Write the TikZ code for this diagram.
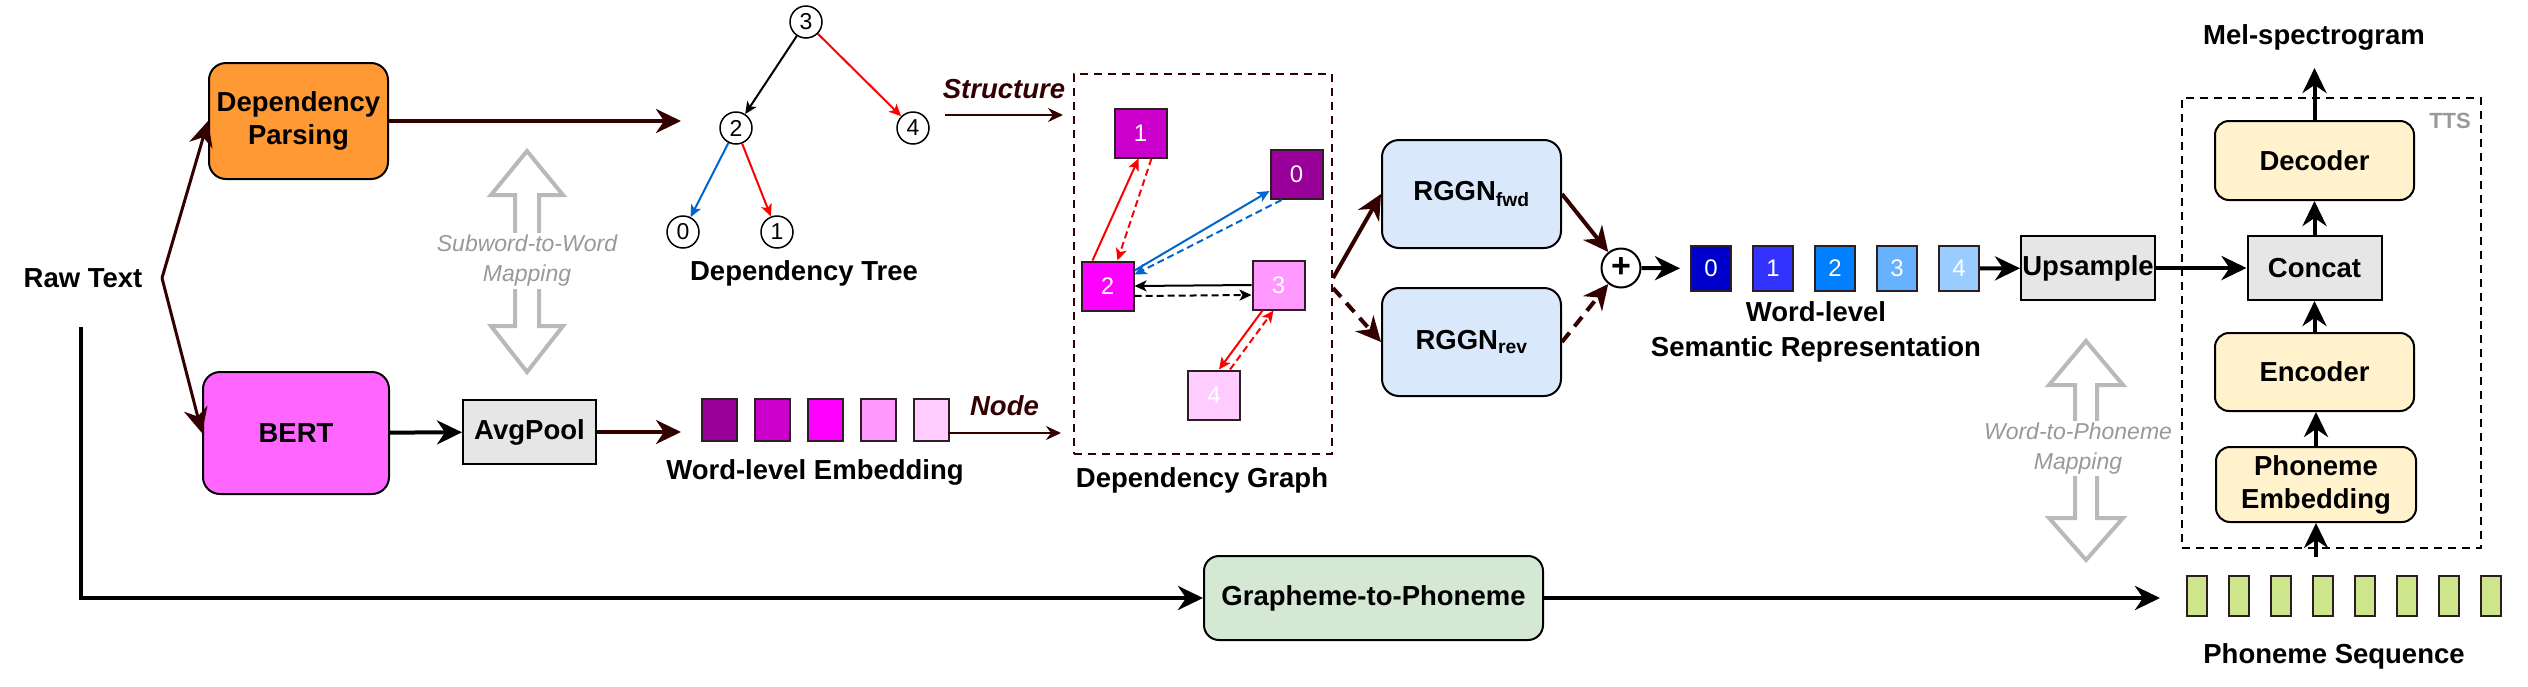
\documentclass[tikz,border=0pt]{standalone}
\usepackage{fontspec}
\setmainfont{Liberation Sans}
\usetikzlibrary{arrows.meta, positioning}
\definecolor{DarkBrown}{RGB}{51,0,0}
\definecolor{ParseOrange}{RGB}{255,153,51}
\definecolor{BertPink}{RGB}{255,102,255}
\definecolor{PoolGray}{RGB}{230,230,230}
\definecolor{RggnBlue}{RGB}{218,232,252}
\definecolor{TtsYellow}{RGB}{255,242,204}
\definecolor{GtpGreen}{RGB}{213,232,212}
\definecolor{PhonGreen}{RGB}{205,230,140}
\definecolor{MapGray}{RGB}{185,185,185}
\definecolor{MapText}{RGB}{153,153,153}
\definecolor{EdgeRed}{RGB}{255,0,0}
\definecolor{EdgeBlue}{RGB}{0,102,204}
\definecolor{CellEdge}{RGB}{45,30,35}
\definecolor{WordA}{RGB}{153,0,153}
\definecolor{WordB}{RGB}{204,0,204}
\definecolor{WordC}{RGB}{255,0,255}
\definecolor{WordD}{RGB}{255,153,255}
\definecolor{WordE}{RGB}{255,204,255}
\definecolor{SemA}{RGB}{0,0,204}
\definecolor{SemB}{RGB}{51,51,255}
\definecolor{SemC}{RGB}{0,127,255}
\definecolor{SemD}{RGB}{102,178,255}
\definecolor{SemE}{RGB}{153,204,255}

\begin{document}
\begin{tikzpicture}[x=1pt, y=-1pt,
    lbl/.style={font=\fontsize{27.5}{33}\selectfont\bfseries, align=center, inner sep=0pt},
    cuetext/.style={font=\fontsize{27.5}{33}\selectfont\bfseries\itshape, text=DarkBrown, inner sep=0pt},
    rbox/.style={lbl, rectangle, rounded corners=17pt, draw=black, line width=2pt},
    sbox/.style={lbl, rectangle, draw=black, line width=2pt, fill=PoolGray},
    cell/.style={rectangle, draw=CellEdge, line width=2pt, inner sep=0pt, text=white,
                 font=\fontsize{24}{24}\selectfont},
    wcell/.style={cell, minimum width=35pt, minimum height=42pt},
    scell/.style={cell, minimum width=40pt, minimum height=45pt},
    gcell/.style={cell, minimum width=52pt, minimum height=49pt},
    pcell/.style={cell, fill=PhonGreen, minimum width=20pt, minimum height=40pt},
    tnode/.style={circle, draw=black, line width=1.5pt, minimum size=32pt, inner sep=0pt,
                  font=\fontsize{23}{23}\selectfont},
    maptext/.style={font=\fontsize{23}{30}\selectfont\itshape, text=MapText, align=center,
                    fill=white, inner sep=2pt},
    mapshape/.style={draw=MapGray, line width=4pt, fill=white, line join=miter},
    frame/.style={draw, line width=2pt, dash pattern=on 8pt off 6pt, inner sep=0pt},
    flow/.style={-{Stealth[length=25pt, width=24pt, inset=8pt]}, line width=4pt, DarkBrown},
    flowk/.style={flow, black},
    back/.style={dash pattern=on 12pt off 8pt},
    cue/.style={-{Stealth[length=15pt, width=14pt, inset=5pt]}, line width=2pt, DarkBrown},
    dep/.style={-{Stealth[length=12pt, width=11pt, inset=3pt]}, line width=2pt},
    depback/.style={dep, dash pattern=on 7pt off 4pt}
]
\useasboundingbox (0,0) rectangle (2528,686);

% text input and the two branches
\node[lbl] (raw) at (83,278) {Raw Text};
\coordinate (split) at (162,278);
\node[rbox, fill=ParseOrange, minimum width=179pt, minimum height=116pt] (parse) at (298.5,121) {Dependency\\Parsing};
\node[rbox, fill=BertPink, minimum width=186pt, minimum height=122pt] (bert) at (296,433) {BERT};
\node[sbox, minimum width=133pt, minimum height=64pt] (pool) at (529.5,432) {AvgPool};
\draw[flow, line width=3pt] (split) -- (parse.west);
\draw[flow, line width=3pt] (split) -- (bert.west);
\draw[flowk] (bert) -- (pool);

% subword-to-word mapping
\draw[mapshape] (527,151) -- (563,195) -- (539,195) -- (539,326) -- (563,326) -- (527,372)
    -- (491,326) -- (515,326) -- (515,195) -- (491,195) -- cycle;
\node[maptext] (submap) at (527,261) {Subword-to-Word\\Mapping};

% dependency tree
\coordinate (treein) at (681,121);
\draw[flow] (parse.east) -- (treein);
\node[tnode] (t3) at (806,22) {3};
\node[tnode] (t2) at (736,128) {2};
\node[tnode] (t4) at (913,128) {4};
\node[tnode] (t0) at (683,232) {0};
\node[tnode] (t1) at (777,232) {1};
\draw[dep] (t3) -- (t2);
\draw[dep, EdgeRed] (t3) -- (t4);
\draw[dep, EdgeBlue] (t2) -- (t0);
\draw[dep, EdgeRed] (t2) -- (t1);
\node[lbl] (treelbl) at (804,273) {Dependency Tree};

% word-level embedding
\node[wcell, fill=WordA] (e0) at (719,420) {};
\node[wcell, fill=WordB, right=16pt of e0] (e1) {};
\node[wcell, fill=WordC, right=16pt of e1] (e2) {};
\node[wcell, fill=WordD, right=16pt of e2] (e3) {};
\node[wcell, fill=WordE, right=16pt of e3] (e4) {};
\node[lbl] (emblbl) at (815,472) {Word-level Embedding};
\coordinate (embin) at (681,432);
\draw[flow] (pool.east) -- (embin);

% structure / node cues
\coordinate (sfrom) at (945,115);
\coordinate (sto) at (1063,115);
\draw[cue] (sfrom) -- node[cuetext, above=15pt] (strlbl) {Structure} (sto);
\coordinate (nfrom) at (948,433);
\coordinate (nto) at (1061,433);
\draw[cue] (nfrom) -- node[cuetext, above=16pt] (nodelbl) {Node} (nto);

% dependency graph
\node[frame, draw=DarkBrown, minimum width=258pt, minimum height=380pt] (graph) at (1203,264) {};
\node[gcell, fill=WordB] (g1) at (1140.5,133) {1};
\node[gcell, fill=WordA] (g0) at (1296.5,174.5) {0};
\node[gcell, fill=WordC] (g2) at (1107.5,286) {2};
\node[gcell, fill=WordD] (g3) at (1278.5,285) {3};
\node[gcell, fill=WordE] (g4) at (1214,395) {4};
\draw[dep, EdgeRed] ([xshift=-15pt]g2.north) -- ([xshift=-2pt]g1.south);
\draw[depback, EdgeRed] ([xshift=11pt]g1.south) -- ([xshift=10pt]g2.north);
\draw[dep, EdgeBlue] ([yshift=-10pt]g2.north east) -- ([yshift=9pt]g0.south west);
\draw[depback, EdgeBlue] ([xshift=12pt]g0.south west) -- ([yshift=-14pt]g2.north east);
\draw[dep] (g3.west) -- (g2.east);
\draw[depback] ([yshift=-10pt]g2.east) -- ([yshift=-10pt]g3.west);
\draw[dep, EdgeRed] ([xshift=-16pt]g3.south) -- ([xshift=5pt]g4.north);
\draw[depback, EdgeRed] ([xshift=16pt]g4.north) -- ([xshift=-5pt]g3.south);
\node[lbl] (graphlbl) at (1202,480) {Dependency Graph};

% graph networks
\node[rbox, fill=RggnBlue, minimum width=179pt, minimum height=108pt] (fwd) at (1471.5,194) {RGGN\textsubscript{fwd}};
\node[rbox, fill=RggnBlue, minimum width=179pt, minimum height=108pt] (rev) at (1471.5,342) {RGGN\textsubscript{rev}};
\node[circle, draw=black, line width=2pt, minimum size=39pt, inner sep=0pt,
      font=\fontsize{34}{34}\selectfont\bfseries] (plus) at (1621,268) {+};
\draw[flow] ([yshift=-14pt]graph.east) -- (fwd.west);
\draw[flow, back] ([yshift=-24pt]graph.east) -- (rev.west);
\draw[flow] (fwd.east) -- (plus);
\draw[flow, back] (rev.east) -- (plus);

% word-level semantic representation
\node[scell, fill=SemA] (s0) at (1711,268.5) {0};
\node[scell, fill=SemB, right=20pt of s0] (s1) {1};
\node[scell, fill=SemC, right=20pt of s1] (s2) {2};
\node[scell, fill=SemD, right=20pt of s2] (s3) {3};
\node[scell, fill=SemE, right=20pt of s3] (s4) {4};
\draw[flowk, shorten >=10pt] (plus) -- (s0);
\node[lbl, font=\fontsize{27.5}{35}\selectfont\bfseries] (semlbl) at (1816,332) {Word-level\\Semantic Representation};
\node[sbox, minimum width=134pt, minimum height=64pt] (up) at (2088,268) {Upsample};
\draw[flowk] (s4) -- (up);

% word-to-phoneme mapping
\draw[mapshape] (2086,341) -- (2123,385) -- (2097,385) -- (2097,518) -- (2123,518) -- (2086,560)
    -- (2049,518) -- (2075,518) -- (2075,385) -- (2049,385) -- cycle;
\node[maptext] (phmap) at (2078,448.5) {Word-to-Phoneme\\Mapping};

% TTS model
\node[frame, minimum width=299pt, minimum height=450pt] (tts) at (2331.5,323) {};
\node[font=\fontsize{22}{22}\selectfont\bfseries, text=MapText, inner sep=0pt, anchor=north east]
    (ttslbl) at ([xshift=-11pt, yshift=-16pt]tts.north east) {TTS};
\node[rbox, fill=TtsYellow, rounded corners=14pt, minimum width=199pt, minimum height=79pt] (dec) at (2314.5,160.5) {Decoder};
\node[sbox, minimum width=134pt, minimum height=64pt] (concat) at (2314.5,268) {Concat};
\node[rbox, fill=TtsYellow, rounded corners=14pt, minimum width=199pt, minimum height=78pt] (enc) at (2314.5,372) {Encoder};
\node[rbox, fill=TtsYellow, rounded corners=14pt, minimum width=200pt, minimum height=75pt] (phemb) at (2316,484.5) {Phoneme\\Embedding};
\draw[flowk] (up) -- (concat);
\draw[flowk] (concat) -- (dec);
\draw[flowk] (enc) -- (concat);
\draw[flowk] (phemb.north) -- (phemb.north |- enc.south);
\coordinate (melout) at (2314.5,68);
\draw[flowk] (dec) -- (melout);
\node[lbl] (mellbl) at (2314,37) {Mel-spectrogram};

% phoneme sequence
\node[pcell] (p1) at (2197,596) {};
\node[pcell, right=20pt of p1] (p2) {};
\node[pcell, right=20pt of p2] (p3) {};
\node[pcell, right=20pt of p3] (p4) {};
\node[pcell, right=20pt of p4] (p5) {};
\node[pcell, right=20pt of p5] (p6) {};
\node[pcell, right=20pt of p6] (p7) {};
\node[pcell, right=20pt of p7] (p8) {};
\node[lbl] (seqlbl) at (2334,656) {Phoneme Sequence};
\coordinate (phin) at (2316,557);
\draw[flowk] (phin) -- (phemb);

% grapheme-to-phoneme path
\node[rbox, fill=GtpGreen, rounded corners=15pt, minimum width=339pt, minimum height=84pt] (g2p) at (1373.5,598) {Grapheme-to-Phoneme};
\coordinate (rawdown) at (81,327);
\draw[flowk] (rawdown) |- (g2p.west);
\coordinate (seqin) at (2160,598);
\draw[flowk] (g2p.east) -- (seqin);
\end{tikzpicture}
\end{document}
